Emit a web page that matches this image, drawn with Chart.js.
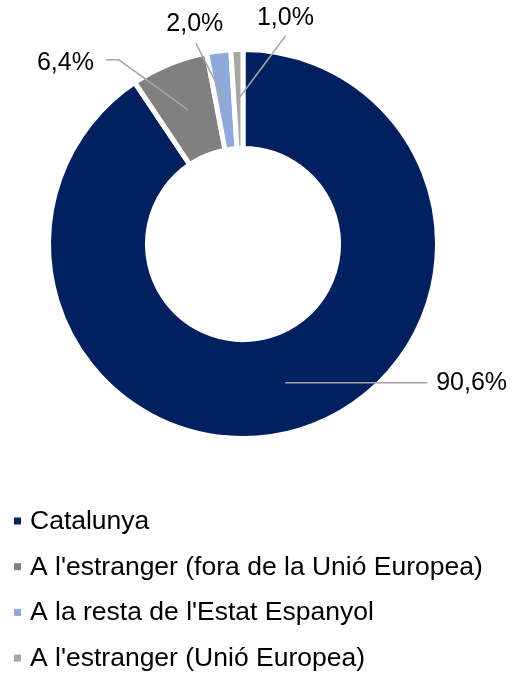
<!DOCTYPE html>
<html>
<head>
<meta charset="utf-8">
<style>
  html, body { margin: 0; padding: 0; background: #fff; }
</style>
<script src="https://cdn.jsdelivr.net/npm/chart.js"></script>
</head>
<body>
<canvas id="grafic" width="523" height="676"></canvas>
<script>
const categories = ["Catalunya", "A l'estranger (fora de la Unió Europea)", "A la resta de l'Estat Espanyol", "A l'estranger (Unió Europea)"];
const percentatges = [90.6, 6.4, 2.0, 1.0];
const etiquetes = ["90,6%", "6,4%", "2,0%", "1,0%"];
const colors = ["#002060", "#808080", "#8EA9DB", "#A6A6A6"];

// posicio de cada etiqueta respecte al centre del sector
const guies = [
  { linia: [[142, 0]], text: [151, 0], align: "left" },
  { linia: [[-69, -50], [-82, -50]], text: [-94, -47], align: "right" },
  { linia: [[-29, -57]], text: [-30, -76], align: "center" },
  { linia: [[47, -63]], text: [47, -81], align: "center" }
];

const font = "'Liberation Sans', Arial, sans-serif";

const etiquetesPlugin = {
  id: "etiquetes",
  afterDraw(chart) {
    const ctx = chart.ctx;
    const meta = chart.getDatasetMeta(0);
    ctx.save();
    meta.data.forEach((arc, i) => {
      const p = arc.getCenterPoint();
      const g = guies[i];
      ctx.strokeStyle = "#A6A6A6";
      ctx.lineWidth = 1.5;
      ctx.beginPath();
      ctx.moveTo(p.x, p.y);
      g.linia.forEach(([dx, dy]) => ctx.lineTo(p.x + dx, p.y + dy));
      ctx.stroke();
      ctx.fillStyle = "#000";
      ctx.font = "25px " + font;
      ctx.textAlign = g.align;
      ctx.textBaseline = "middle";
      ctx.fillText(etiquetes[i], p.x + g.text[0], p.y + g.text[1]);
    });

    // llegenda (text una mica eixamplat, com a l'original)
    ctx.font = "25px " + font;
    ctx.textAlign = "left";
    ctx.textBaseline = "middle";
    categories.forEach((c, i) => {
      const y = 521 + i * 45.7;
      ctx.fillStyle = colors[i];
      ctx.fillRect(14, y - 3.5, 7, 7);
      ctx.fillStyle = "#000";
      ctx.save();
      ctx.translate(30, y + 1);
      ctx.scale(1.06, 1);
      ctx.fillText(c, 0, 0);
      ctx.restore();
    });
    ctx.restore();
  }
};

new Chart(document.getElementById("grafic"), {
  type: "doughnut",
  data: {
    labels: categories,
    datasets: [{
      data: percentatges,
      backgroundColor: colors,
      borderColor: "#fff",
      borderWidth: 5,
      radius: 194.5,
      cutout: 98.5
    }]
  },
  options: {
    responsive: false,
    devicePixelRatio: 1,
    animation: false,
    layout: { padding: { left: 40, right: 77, top: 40, bottom: 228 } },
    plugins: {
      legend: { display: false },
      tooltip: { enabled: false }
    }
  },
  plugins: [etiquetesPlugin]
});
</script>
</body>
</html>
